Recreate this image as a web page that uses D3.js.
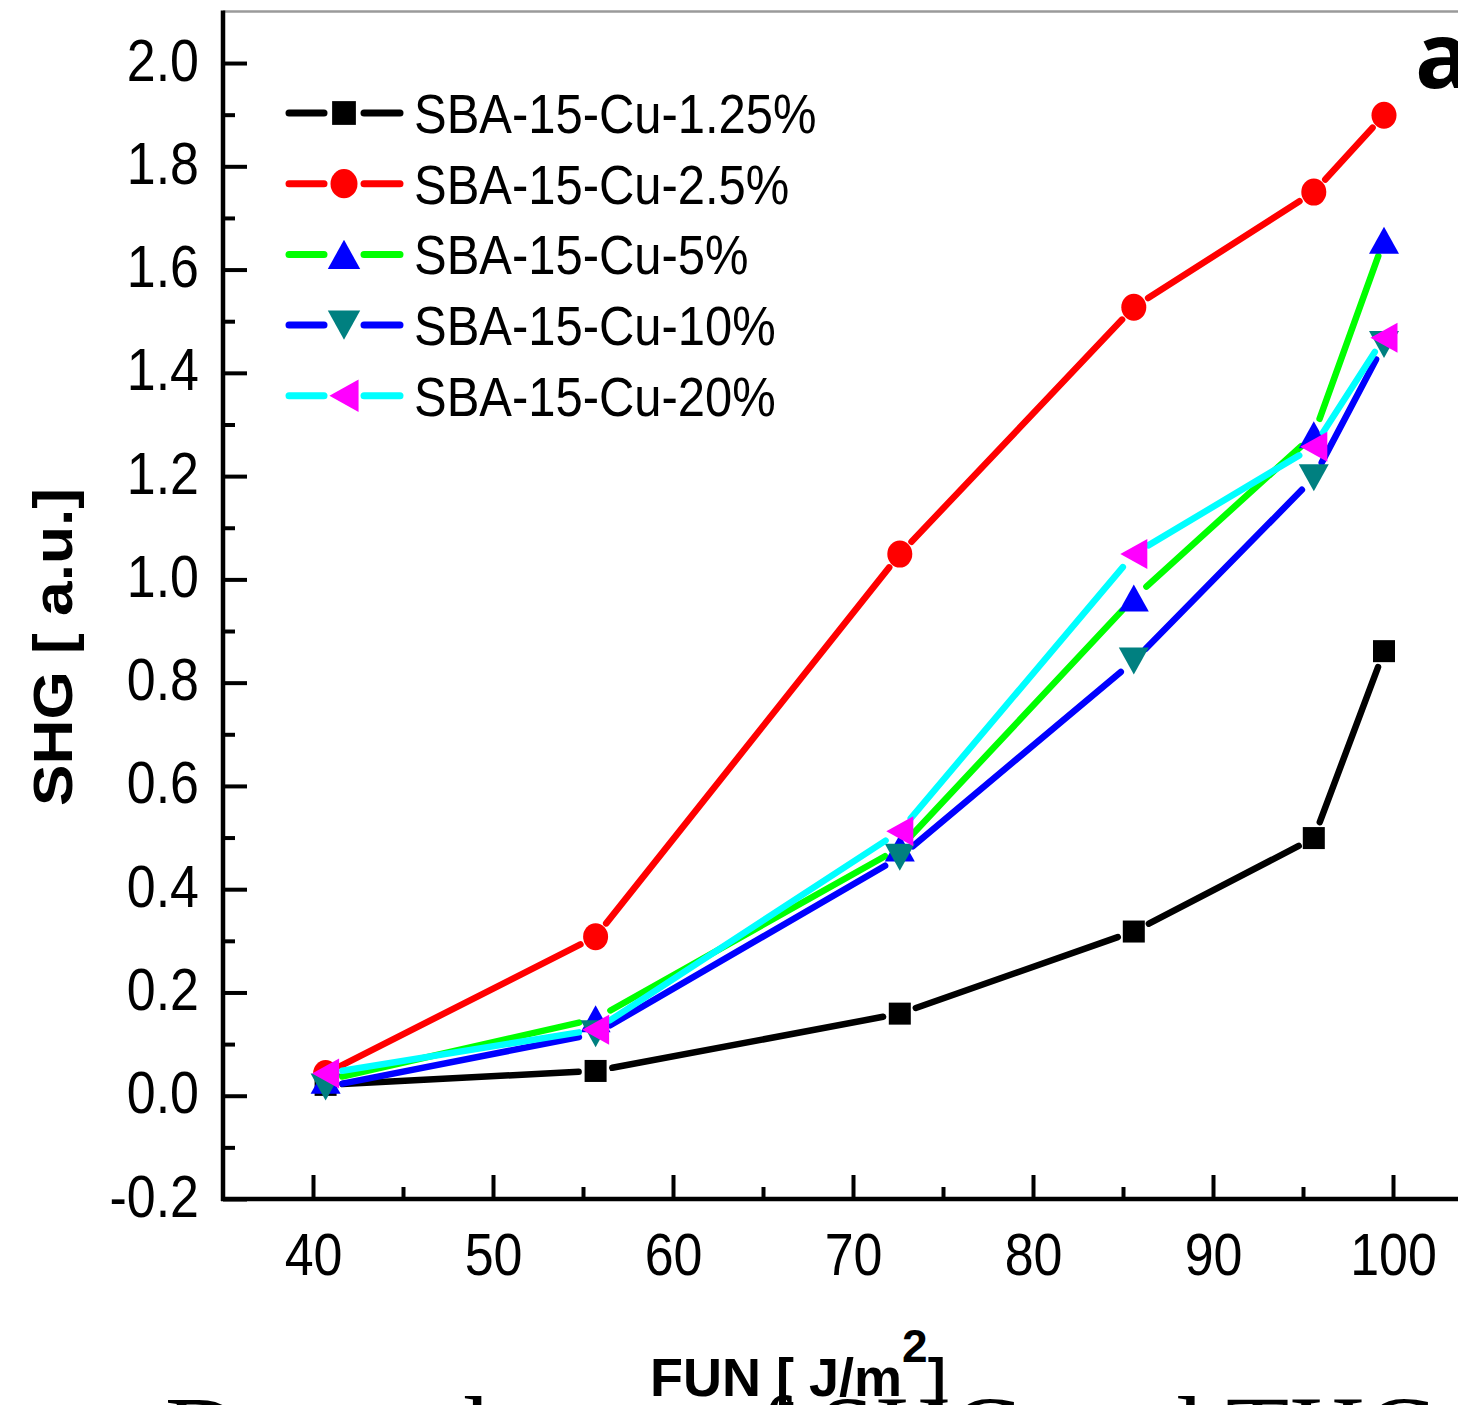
<!DOCTYPE html>
<html>
<head>
<meta charset="utf-8">
<script src="https://cdn.jsdelivr.net/npm/d3@7"></script>
<style>
  html, body { margin: 0; padding: 0; background: #fff; overflow: hidden; }
  svg { display: block; }
</style>
</head>
<body>
<svg id="chart" width="1458" height="1405"></svg>
<script>
// Laser fluence (J/m^2) at which SHG was recorded
const fluence = [40.7, 55.7, 72.6, 85.6, 95.6, 99.5];

// SHG intensity (a.u.) for each Cu loading
const cu125 = [0.021, 0.048, 0.159, 0.318, 0.499, 0.861];
const cu25  = [0.043, 0.308, 1.049, 1.527, 1.750, 1.899];
const cu5   = [0.030, 0.149, 0.480, 0.964, 1.280, 1.657];
const cu10  = [0.017, 0.120, 0.462, 0.842, 1.197, 1.455];
const cu20  = [0.043, 0.128, 0.512, 1.049, 1.257, 1.468];

const seriesNames = ["SBA-15-Cu-1.25%", "SBA-15-Cu-2.5%", "SBA-15-Cu-5%", "SBA-15-Cu-10%", "SBA-15-Cu-20%"];
const seriesValues = [cu125, cu25, cu5, cu10, cu20];
const lineColors   = ["#000000", "#ff0000", "#00ff00", "#0000ff", "#00ffff"];
const markerColors = ["#000000", "#ff0000", "#0000ff", "#008080", "#ff00ff"];
const markerShapes = ["square", "circle", "up", "down", "left"];

const xMajor = [40, 50, 60, 70, 80, 90, 100];
const xMinor = [45, 55, 65, 75, 85, 95];
const yMajor = [-0.2, 0, 0.2, 0.4, 0.6, 0.8, 1.0, 1.2, 1.4, 1.6, 1.8, 2.0];
const yMinor = [-0.1, 0.1, 0.3, 0.5, 0.7, 0.9, 1.1, 1.3, 1.5, 1.7, 1.9];

const svg = d3.select("#chart");
const W = 1458, H = 1405;

const x = d3.scaleLinear().domain([35, 105]).range([223, 1483]);
const y = d3.scaleLinear().domain([-0.2, 2.1]).range([1199, 11.4]);

const SANS = "'Liberation Sans', Arial, sans-serif";
const SQUEEZE = 0.88;

// frame: thin grey top edge, heavy left and bottom axes
svg.append("line")
  .attr("x1", x(35)).attr("x2", W + 10)
  .attr("y1", y(2.1)).attr("y2", y(2.1))
  .attr("stroke", "#9a9a9a").attr("stroke-width", 2.5);

// ---- axes ----
const fmtY = v => (Math.abs(v) < 1e-9 ? 0 : v).toFixed(1);

const gx = svg.append("g").attr("transform", `translate(0,${y(-0.2)})`);
gx.call(d3.axisBottom(x).tickValues(xMajor).tickSizeInner(-24).tickSizeOuter(0).tickPadding(33).tickFormat(d3.format("d")));
gx.append("g").call(d3.axisBottom(x).tickValues(xMinor).tickSizeInner(-12).tickSizeOuter(0).tickFormat(""));

const gy = svg.append("g").attr("transform", `translate(${x(35)},0)`);
gy.call(d3.axisLeft(y).tickValues(yMajor).tickSizeInner(-24).tickSizeOuter(0).tickPadding(22).tickFormat(fmtY));
gy.append("g").call(d3.axisLeft(y).tickValues(yMinor).tickSizeInner(-12).tickSizeOuter(0).tickFormat(""));

svg.selectAll(".domain").remove();
svg.selectAll(".tick line").attr("stroke", "#000").attr("stroke-width", 4);

svg.selectAll(".tick text")
  .attr("fill", "#000")
  .style("font-family", SANS)
  .style("font-size", "59px");

// condense tick labels horizontally about their anchor
gy.selectAll(".tick text").each(function () {
  const t = d3.select(this);
  const tx = +t.attr("x");
  t.attr("x", 0).attr("dy", null).attr("y", 0)
   .attr("transform", `translate(${tx - 2},17) scale(${SQUEEZE},1)`);
});
gx.selectAll(".tick text").each(function () {
  const t = d3.select(this);
  const ty = +t.attr("y");
  t.attr("y", 0).attr("dy", null)
   .attr("transform", `translate(0,${ty + 43}) scale(${SQUEEZE},1)`);
});

svg.append("line")
  .attr("x1", x(35)).attr("x2", x(35))
  .attr("y1", y(2.1) - 1).attr("y2", y(-0.2) + 2)
  .attr("stroke", "#000").attr("stroke-width", 4.5);
svg.append("line")
  .attr("x1", x(35) - 2).attr("x2", W + 10)
  .attr("y1", y(-0.2)).attr("y2", y(-0.2))
  .attr("stroke", "#000").attr("stroke-width", 4.5);

// ---- axis titles ----
svg.append("text")
  .attr("transform", `translate(72,647) rotate(-90)`)
  .attr("text-anchor", "middle")
  .style("font-family", SANS).style("font-weight", "bold").style("font-size", "56px")
  .attr("textLength", 318).attr("lengthAdjust", "spacingAndGlyphs")
  .text("SHG [ a.u.]");

const xt = svg.append("text")
  .attr("x", 650).attr("y", 1396)
  .style("font-family", SANS).style("font-weight", "bold").style("font-size", "54px");
xt.append("tspan").text("FUN [ J/m");
xt.append("tspan").attr("dy", -34).style("font-size", "46px").text("2");
xt.append("tspan").attr("dy", 34).text("]");

// panel letter
svg.append("text")
  .attr("x", 1415).attr("y", 88)
  .style("font-family", "'Open Sans', sans-serif").style("font-weight", "bold").style("font-size", "92px")
  .text("a");

// caption line beneath the figure (only its top edge falls inside the page)
svg.append("text")
  .attr("x", 165).attr("y", 1468)
  .style("font-family", "'Liberation Serif', 'Times New Roman', serif").style("font-size", "104px")
  .attr("fill", "#000")
  .text("Dependence of SHG and THG");

// ---- markers ----
function marker(g, shape, cx, cy, color, s) {
  const k = s || 1;
  if (shape === "square") {
    g.append("rect").attr("x", cx - 11 * k).attr("y", cy - 11 * k)
      .attr("width", 22 * k).attr("height", 22 * k).attr("fill", color);
  } else if (shape === "circle") {
    g.append("ellipse").attr("cx", cx).attr("cy", cy)
      .attr("rx", 12.5 * k).attr("ry", 13.5 * k).attr("fill", color);
  } else {
    const w = 30 * k, h = 27 * k;
    let p;
    if (shape === "up")   p = [[0, -h / 2], [w / 2, h / 2], [-w / 2, h / 2]];
    if (shape === "down") p = [[0, h / 2], [w / 2, -h / 2], [-w / 2, -h / 2]];
    if (shape === "left") p = [[-h / 2, 0], [h / 2, -w / 2], [h / 2, w / 2]];
    g.append("path")
      .attr("d", "M" + p.map(q => [cx + q[0], cy + q[1]].join(",")).join("L") + "Z")
      .attr("fill", color);
  }
}

// line segments stop short of each symbol, leaving a small gap
function gappedSegment(g, x1, y1, x2, y2, gap, color, width) {
  const dx = x2 - x1, dy = y2 - y1, len = Math.hypot(dx, dy);
  if (len <= 2 * gap) return;
  const ux = dx / len, uy = dy / len;
  g.append("line")
    .attr("x1", x1 + ux * gap).attr("y1", y1 + uy * gap)
    .attr("x2", x2 - ux * gap).attr("y2", y2 - uy * gap)
    .attr("stroke", color).attr("stroke-width", width).attr("stroke-linecap", "round");
}

// ---- data series ----
seriesValues.forEach((vals, si) => {
  const g = svg.append("g");
  const pts = vals.map((v, i) => [x(fluence[i]), y(v)]);
  for (let i = 0; i < pts.length - 1; i++) {
    gappedSegment(g, pts[i][0], pts[i][1], pts[i + 1][0], pts[i + 1][1], 17, lineColors[si], 6.5);
  }
  pts.forEach(p => marker(g, markerShapes[si], p[0], p[1], markerColors[si]));
});

// ---- legend ----
const legend = svg.append("g");
seriesNames.forEach((name, i) => {
  const cy = 113 + i * 70.7;
  const g = legend.append("g");
  g.append("line").attr("x1", 289).attr("x2", 324).attr("y1", cy).attr("y2", cy)
    .attr("stroke", lineColors[i]).attr("stroke-width", 7).attr("stroke-linecap", "round");
  g.append("line").attr("x1", 364).attr("x2", 400).attr("y1", cy).attr("y2", cy)
    .attr("stroke", lineColors[i]).attr("stroke-width", 7).attr("stroke-linecap", "round");
  marker(g, markerShapes[i], 344, cy, markerColors[i], 1.08);
  g.append("text")
    .attr("transform", `translate(414,${cy + 20}) scale(0.874,1)`)
    .style("font-family", SANS).style("font-size", "56px")
    .attr("fill", "#000")
    .text(name);
});
</script>
</body>
</html>
